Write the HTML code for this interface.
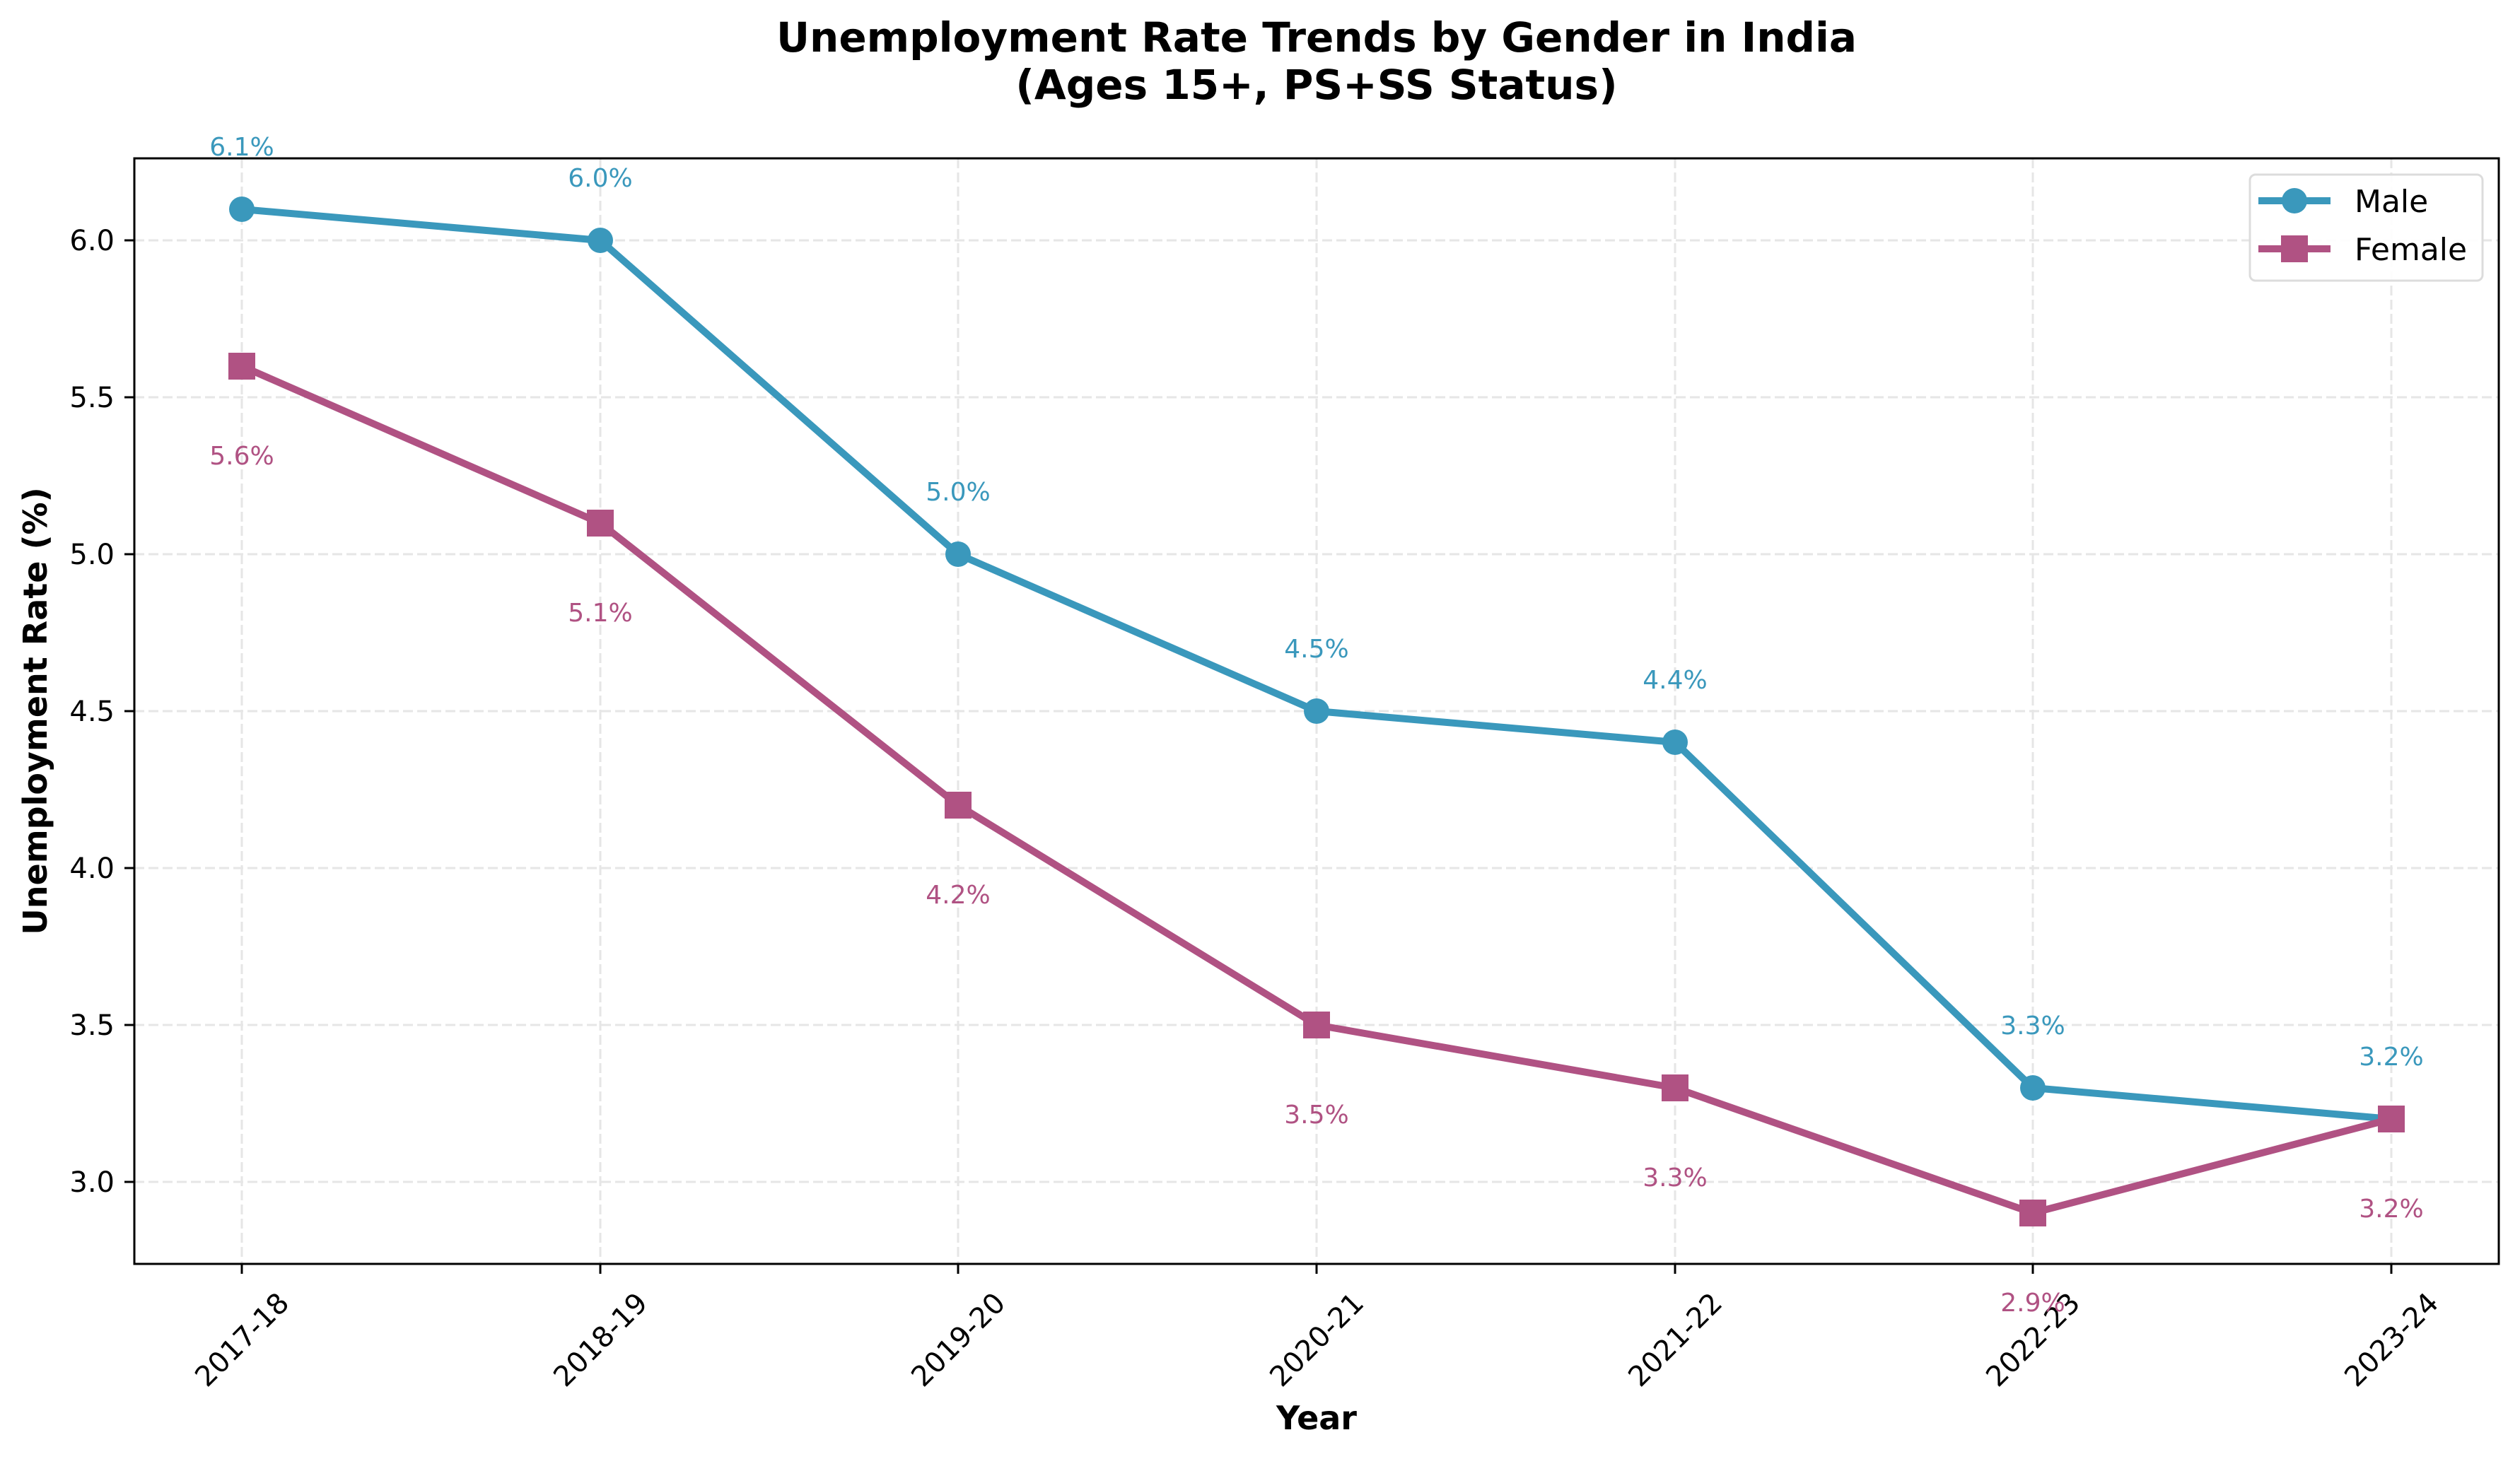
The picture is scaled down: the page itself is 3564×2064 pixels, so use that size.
<!DOCTYPE html>
<html><head><meta charset="utf-8"><style>html,body{margin:0;padding:0;background:#fff}svg{display:block}</style></head>
<body>
<svg width="3564" height="2064" viewBox="0 0 3564 2064" xmlns="http://www.w3.org/2000/svg" font-family="'DejaVu Sans','Liberation Sans',sans-serif">
<rect width="3564" height="2064" fill="#fff"/>
<text x="1862" y="73" font-size="58" font-weight="bold" text-anchor="middle">Unemployment Rate Trends by Gender in India</text>
<text x="1862" y="140" font-size="58" font-weight="bold" text-anchor="middle">(Ages 15+, PS+SS Status)</text>
<g stroke="#e6e6e6" stroke-width="3" stroke-dasharray="14,6">
<line x1="342" y1="224" x2="342" y2="1788"/><line x1="849" y1="224" x2="849" y2="1788"/><line x1="1355" y1="224" x2="1355" y2="1788"/><line x1="1862" y1="224" x2="1862" y2="1788"/><line x1="2369" y1="224" x2="2369" y2="1788"/><line x1="2875" y1="224" x2="2875" y2="1788"/><line x1="3382" y1="224" x2="3382" y2="1788"/>
<line x1="190" y1="340" x2="3534" y2="340"/><line x1="190" y1="562" x2="3534" y2="562"/><line x1="190" y1="784" x2="3534" y2="784"/><line x1="190" y1="1006" x2="3534" y2="1006"/><line x1="190" y1="1228" x2="3534" y2="1228"/><line x1="190" y1="1450" x2="3534" y2="1450"/><line x1="190" y1="1672" x2="3534" y2="1672"/>
</g>
<g stroke="#000" stroke-width="3">
<line x1="176" y1="340" x2="190" y2="340"/><line x1="176" y1="562" x2="190" y2="562"/><line x1="176" y1="784" x2="190" y2="784"/><line x1="176" y1="1006" x2="190" y2="1006"/><line x1="176" y1="1228" x2="190" y2="1228"/><line x1="176" y1="1450" x2="190" y2="1450"/><line x1="176" y1="1672" x2="190" y2="1672"/>
<line x1="342" y1="1788" x2="342" y2="1802"/><line x1="849" y1="1788" x2="849" y2="1802"/><line x1="1355" y1="1788" x2="1355" y2="1802"/><line x1="1862" y1="1788" x2="1862" y2="1802"/><line x1="2369" y1="1788" x2="2369" y2="1802"/><line x1="2875" y1="1788" x2="2875" y2="1802"/><line x1="3382" y1="1788" x2="3382" y2="1802"/>
</g>
<g font-size="40" text-anchor="end">
<text x="162" y="354">6.0</text><text x="162" y="576">5.5</text><text x="162" y="798">5.0</text><text x="162" y="1020">4.5</text><text x="162" y="1242">4.0</text><text x="162" y="1464">3.5</text><text x="162" y="1686">3.0</text>
</g>
<g font-size="40" text-anchor="middle">
<text transform="translate(342,1895) rotate(-45)" y="14">2017-18</text>
<text transform="translate(849,1895) rotate(-45)" y="14">2018-19</text>
<text transform="translate(1355,1895) rotate(-45)" y="14">2019-20</text>
<text transform="translate(1862,1895) rotate(-45)" y="14">2020-21</text>
<text transform="translate(2369,1895) rotate(-45)" y="14">2021-22</text>
<text transform="translate(2875,1895) rotate(-45)" y="14">2022-23</text>
<text transform="translate(3382,1895) rotate(-45)" y="14">2023-24</text>
</g>
<text x="1862" y="2022" font-size="46" font-weight="bold" text-anchor="middle">Year</text>
<text transform="translate(66,1006) rotate(-90)" font-size="46" font-weight="bold" text-anchor="middle">Unemployment Rate (%)</text>
<polyline fill="none" stroke="#3A98BC" stroke-width="10" stroke-linejoin="round" points="342,296 849,340 1355,784 1862,1006 2369,1050 2875,1539 3382,1583"/>
<g fill="#3A98BC"><circle cx="342" cy="296" r="18"/><circle cx="849" cy="340" r="18"/><circle cx="1355" cy="784" r="18"/><circle cx="1862" cy="1006" r="18"/><circle cx="2369" cy="1050" r="18"/><circle cx="2875" cy="1539" r="18"/><circle cx="3382" cy="1583" r="18"/></g>
<polyline fill="none" stroke="#B05283" stroke-width="10" stroke-linejoin="round" points="342,518 849,740 1355,1139 1862,1450 2369,1539 2875,1716 3382,1583"/>
<g fill="#B05283"><rect x="323" y="499" width="38" height="38"/><rect x="830" y="721" width="38" height="38"/><rect x="1336" y="1120" width="38" height="38"/><rect x="1843" y="1431" width="38" height="38"/><rect x="2350" y="1520" width="38" height="38"/><rect x="2856" y="1697" width="38" height="38"/><rect x="3363" y="1564" width="38" height="38"/></g>
<g font-size="36" text-anchor="middle" fill="#3A98BC">
<text x="342" y="220">6.1%</text><text x="849" y="264">6.0%</text><text x="1355" y="708">5.0%</text><text x="1862" y="930">4.5%</text><text x="2369" y="974">4.4%</text><text x="2875" y="1463">3.3%</text><text x="3382" y="1507">3.2%</text>
</g>
<g font-size="36" text-anchor="middle" fill="#B05283">
<text x="342" y="657">5.6%</text><text x="849" y="879">5.1%</text><text x="1355" y="1278">4.2%</text><text x="1862" y="1589">3.5%</text><text x="2369" y="1678">3.3%</text><text x="2875" y="1855">2.9%</text><text x="3382" y="1722">3.2%</text>
</g>
<rect x="190" y="224" width="3344" height="1564" fill="none" stroke="#000" stroke-width="3"/>
<rect x="3182" y="247" width="329" height="150" rx="8" fill="#fff" fill-opacity="0.9" stroke="#dcdcdc" stroke-width="3"/>
<line x1="3194" y1="284" x2="3296" y2="284" stroke="#3A98BC" stroke-width="10"/>
<circle cx="3245" cy="284" r="18" fill="#3A98BC"/>
<line x1="3194" y1="352" x2="3296" y2="352" stroke="#B05283" stroke-width="10"/>
<rect x="3226" y="333" width="38" height="38" fill="#B05283"/>
<text x="3330" y="300" font-size="44">Male</text>
<text x="3330" y="368" font-size="44">Female</text>
</svg>
</body></html>
